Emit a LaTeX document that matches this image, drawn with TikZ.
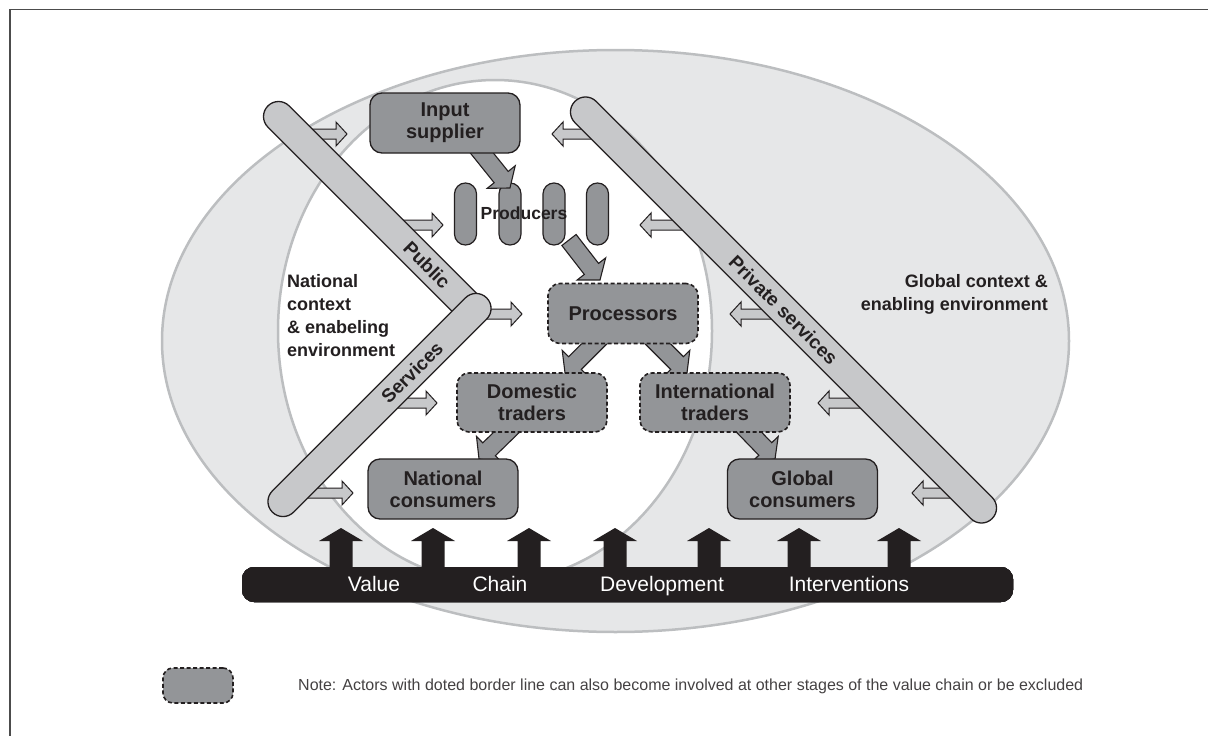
\documentclass[tikz,border=0pt]{standalone}
\usepackage{fontspec}
\setmainfont{Liberation Sans}
\usetikzlibrary{calc}
\definecolor{ink}{HTML}{231F20}
\definecolor{boxgrey}{HTML}{939598}
\definecolor{bargrey}{HTML}{C7C8CA}
\definecolor{ellfill}{HTML}{E6E7E8}
\definecolor{ellline}{HTML}{BCBEC0}
% #1 style, #2 start, #3 angle, #4 length, #5 shaft half width, #6 head half width, #7 head length
\newcommand\blockarr[7]{\draw[#1,shift={#2},rotate=#3] (0,-#5) -- ({#4-#7},-#5) -- ({#4-#7},-#6) -- (#4,0) -- ({#4-#7},#6) -- ({#4-#7},#5) -- (0,#5) -- cycle;}
\begin{document}
\begin{tikzpicture}[x=1pt,y=-1pt,
  ctx/.style={font=\fontsize{18}{23}\selectfont\bfseries, text=ink, inner sep=0pt},
  actor/.style={draw=ink, line width=1.3pt, fill=boxgrey, rounded corners=12pt, minimum width=150pt, minimum height=60pt, font=\fontsize{20}{22}\selectfont\bfseries, text=ink, align=center, inner sep=0pt},
  optactor/.style={actor, dash pattern=on 4pt off 2.5pt, line width=1.6pt},
  pill/.style={draw=ink, line width=1.2pt, fill=boxgrey, rounded corners=10.9pt, minimum width=22pt, minimum height=62pt, inner sep=0pt},
  bar/.style={draw=ink, line width=1.3pt, fill=bargrey, rounded corners=14.9pt, minimum height=30pt, inner sep=0pt, font=\fontsize{19}{21}\selectfont\bfseries, text=ink},
  darkarr/.style={draw=ink, line width=1.1pt, fill=boxgrey},
  lightarr/.style={draw=ink, line width=1pt, fill=bargrey},
  blackarr/.style={fill=ink, draw=none},
  vcword/.style={anchor=base, font=\fontsize{21}{24}\selectfont, text=white, inner sep=0pt}]
\useasboundingbox (0,0) rectangle (1208,736);
% frame
\draw[line width=1.6pt, color=black!70] (10,770) -- (10,9.5) -- (1240,9.5);
% context ellipses
\draw[fill=ellfill, draw=ellline, line width=2.5pt] (615.5,341) ellipse [x radius=453.5, y radius=291];
\draw[fill=white, draw=ellline, line width=2.5pt] (495,331) ellipse [x radius=217, y radius=251];
\node[ctx, anchor=north west, align=left] (natctx) at (287,274) {National\\context\\\& enabeling\\environment};
\node[ctx, anchor=north east, align=right] (globctx) at (1048,274) {Global context \&\\enabling environment};
% service arrows (light)
\blockarr{lightarr}{(300,134)}{0}{47}{5}{12}{11}
\blockarr{lightarr}{(392,225)}{0}{51}{5}{12}{11}
\blockarr{lightarr}{(478,314)}{0}{44}{5}{12}{11}
\blockarr{lightarr}{(388,403)}{0}{49}{5}{12}{11}
\blockarr{lightarr}{(298,493)}{0}{55}{5}{12}{11}
\blockarr{lightarr}{(600,134)}{180}{48}{5}{12}{11}
\blockarr{lightarr}{(690,225)}{180}{50}{5}{12}{11}
\blockarr{lightarr}{(780,314)}{180}{50}{5}{12}{11}
\blockarr{lightarr}{(868,403)}{180}{50}{5}{12}{11}
\blockarr{lightarr}{(958,493)}{180}{46}{5}{12}{11}
% service bars (labels set inside, shifted along the bar)
\node[bar, minimum width=300pt, rotate=-45] (public) at (374,212) {\hspace*{150pt}Public};
\node[bar, minimum width=303pt, rotate=45] (services) at (379.5,405) {\hspace*{92pt}Services};
\node[bar, minimum width=590pt, rotate=-45] (private) at (783.5,310) {Private services};
% producers
\node[pill] (p1) at (465.5,214) {};
\node[pill] (p2) at (510,214) {};
\node[pill] (p3) at (554,214) {};
\node[pill] (p4) at (597.5,214) {};
% value chain arrows
\blockarr{darkarr}{(477,147)}{-51.2}{52.6}{9}{18}{14}
\blockarr{darkarr}{(569,240)}{-52.2}{50.6}{9}{18}{14}
\blockarr{darkarr}{(602,336)}{-135}{52.3}{9}{18}{14}
\blockarr{darkarr}{(650,336)}{-45}{52.3}{9}{18}{14}
\blockarr{darkarr}{(513,426)}{-135.8}{47.4}{9}{18}{14}
\blockarr{darkarr}{(743,426)}{-45.9}{46}{9}{18}{14}
% actors
\node[actor] (input) at (445,123) {Input\\supplier};
\node[optactor] (proc) at (623,313.5) {Processors};
\node[optactor, minimum height=59pt] (dom) at (532,402.5) {Domestic\\traders};
\node[optactor, minimum height=59pt] (intl) at (715,402.5) {International\\traders};
\node[actor] (natcons) at (443,489) {National\\consumers};
\node[actor] (globcons) at (802.5,489) {Global\\consumers};
\node[font=\fontsize{17.5}{20}\selectfont\bfseries, text=ink, inner sep=0pt] (prodl) at (524,213) {Producers};
% interventions
\foreach \x in {341,433,529,615,709,799,899}
  \blockarr{blackarr}{(\x,580)}{90}{52}{11.5}{22}{13}
\node[fill=ink, rounded corners=12pt, minimum width=771pt, minimum height=35pt, inner sep=0pt] (vcdi) at (627.5,584.5) {};
\node[vcword] (w1) at (374,591) {Value};
\node[vcword] (w2) at (500,591) {Chain};
\node[vcword] (w3) at (662,591) {Development};
\node[vcword] (w4) at (849,591) {Interventions};
% legend
\node[optactor, minimum width=70pt, minimum height=35pt, rounded corners=10pt] (legend) at (198,685.5) {};
\node[anchor=west, font=\fontsize{16}{19}\selectfont, text=ink!85, inner sep=0pt] (note) at (298,686) {Note: Actors with doted border line can also become involved at other stages of the value chain or be excluded};
\end{tikzpicture}
\end{document}
